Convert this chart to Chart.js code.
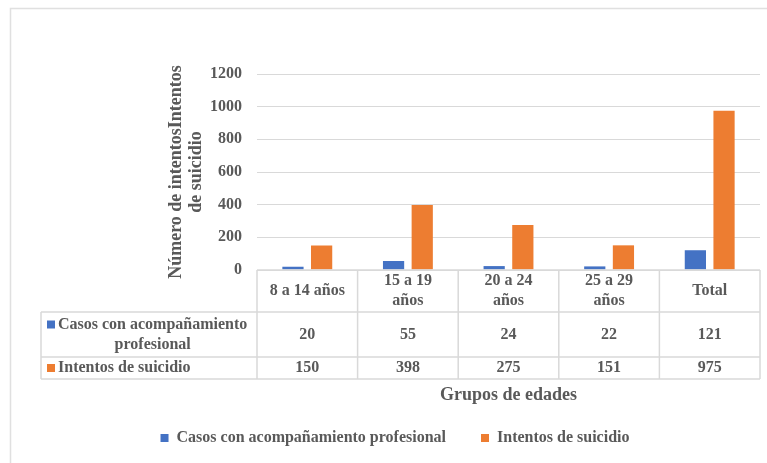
<!DOCTYPE html>
<html lang="es">
<head>
<meta charset="utf-8">
<title>Intentos de suicidio por grupos de edades</title>
<script src="https://cdn.jsdelivr.net/npm/chart.js@4.4.1/dist/chart.umd.min.js"></script>
<style>
  html, body { margin: 0; padding: 0; background: #fff; }
  #contenedor { position: relative; width: 767px; height: 463px; }
</style>
</head>
<body>
<div id="contenedor"><canvas id="grafico"></canvas></div>
<script>
// Grupos de edad (en varias líneas como en la tabla)
const grupos = [['8 a 14 años'], ['15 a 19', 'años'], ['20 a 24', 'años'], ['25 a 29', 'años'], ['Total']];
const casosAcompanamiento = [20, 55, 24, 22, 121];
const intentosSuicidio = [150, 398, 275, 151, 975];
const nombresSeries = ['Casos con acompañamiento profesional', 'Intentos de suicidio'];
const nombresTabla = [['Casos con acompañamiento', 'profesional'], ['Intentos de suicidio']];
const ejeY = { min: 0, max: 1200, paso: 200 };

const AZUL = '#4472C4';
const NARANJA = '#ED7D31';
const GRIS_TEXTO = '#595959';
const GRIS_LINEA = '#d9d9d9';
const FUENTE = '"Liberation Serif", "Times New Roman", serif';

Chart.defaults.font.family = FUENTE;
Chart.defaults.color = GRIS_TEXTO;

// marco exterior del gráfico
const marco = {
  id: 'marco',
  beforeDraw(chart) {
    const ctx = chart.ctx;
    ctx.save();
    ctx.strokeStyle = '#e0e0e0';
    ctx.lineWidth = 1.5;
    ctx.beginPath();
    ctx.moveTo(10.5, chart.height);
    ctx.lineTo(10.5, 8.5);
    ctx.lineTo(chart.width, 8.5);
    ctx.stroke();
    ctx.restore();
  }
};

// tabla de datos bajo el eje X
const tablaDatos = {
  id: 'tablaDatos',
  afterDraw(chart) {
    const { ctx, chartArea, scales: { x } } = chart;
    const n = chart.data.labels.length;
    const anchoCol = (x.right - x.left) / n;
    const altos = [42, 45, 22];
    const y0 = chartArea.bottom;
    const y1 = y0 + altos[0], y2 = y1 + altos[1], y3 = y2 + altos[2];
    const filas = [[y1, y2], [y2, y3]];
    const xIzq = 41;

    ctx.save();
    ctx.strokeStyle = GRIS_LINEA;
    ctx.lineWidth = 1.5;
    ctx.beginPath();
    ctx.moveTo(x.left, y0); ctx.lineTo(x.right, y0);
    [y1, y2, y3].forEach(y => { ctx.moveTo(xIzq, y); ctx.lineTo(x.right, y); });
    for (let i = 0; i <= n; i++) {
      const xx = x.left + i * anchoCol;
      ctx.moveTo(xx, y0); ctx.lineTo(xx, y3);
    }
    ctx.moveTo(xIzq, y1); ctx.lineTo(xIzq, y3);
    ctx.stroke();

    ctx.font = 'bold 16px ' + FUENTE;
    ctx.fillStyle = GRIS_TEXTO;
    ctx.textAlign = 'center';
    ctx.textBaseline = 'middle';

    // encabezados de columna
    chart.data.labels.forEach((lab, i) => {
      const cx = x.getPixelForValue(i);
      const medio = (y0 + y1) / 2;
      lab.forEach((t, j) => ctx.fillText(t, cx, medio + (j - (lab.length - 1) / 2) * 20));
    });

    // filas de valores con su clave de color
    chart.data.datasets.forEach((ds, k) => {
      const medio = (filas[k][0] + filas[k][1]) / 2;
      ds.data.forEach((v, i) => {
        ctx.fillStyle = GRIS_TEXTO;
        ctx.fillText(String(v), x.getPixelForValue(i), medio);
      });
      const lineas = nombresTabla[k];
      const yPrimera = medio - (lineas.length - 1) * 10;
      const xTexto = 58;
      const ancho = ctx.measureText(lineas[0]).width;
      ctx.fillStyle = ds.backgroundColor;
      ctx.fillRect(47, yPrimera - 4, 8, 8);
      ctx.fillStyle = GRIS_TEXTO;
      ctx.textAlign = 'left';
      ctx.fillText(lineas[0], xTexto, yPrimera);
      ctx.textAlign = 'center';
      for (let j = 1; j < lineas.length; j++) {
        ctx.fillText(lineas[j], xTexto + ancho / 2, yPrimera + j * 20);
      }
    });
    ctx.restore();
  }
};

new Chart(document.getElementById('grafico'), {
  type: 'bar',
  data: {
    labels: grupos,
    datasets: [
      { label: nombresSeries[0], data: casosAcompanamiento, backgroundColor: AZUL, borderWidth: 0 },
      { label: nombresSeries[1], data: intentosSuicidio, backgroundColor: NARANJA, borderWidth: 0 }
    ]
  },
  options: {
    responsive: true,
    maintainAspectRatio: false,
    animation: false,
    categoryPercentage: 0.57,
    barPercentage: 0.74,
    layout: { padding: { left: 30, right: 7, top: 74, bottom: 7 } },
    plugins: {
      tooltip: { enabled: false },
      legend: {
        position: 'bottom',
        labels: {
          boxWidth: 8,
          boxHeight: 8,
          padding: 35,
          color: GRIS_TEXTO,
          font: { size: 16, weight: 'bold' }
        }
      }
    },
    scales: {
      x: {
        offset: true,
        grid: { display: false },
        border: { display: false },
        ticks: { display: false },
        title: {
          display: true,
          text: 'Grupos de edades',
          color: GRIS_TEXTO,
          font: { size: 18, weight: 'bold', lineHeight: 1.2 },
          // el título queda dentro del hueco superior de la leyenda
          padding: { top: 0, bottom: -11 }
        },
        afterFit(scale) { scale.height = 125; }
      },
      y: {
        min: ejeY.min,
        max: ejeY.max,
        border: { display: false },
        grid: { color: GRIS_LINEA, lineWidth: 1, drawTicks: false },
        ticks: {
          stepSize: ejeY.paso,
          padding: 15,
          color: GRIS_TEXTO,
          font: { size: 16, weight: 'bold' },
          callback: v => String(v)
        },
        title: {
          display: true,
          text: ['Número de intentosIntentos', 'de suicidio'],
          color: GRIS_TEXTO,
          font: { size: 18, weight: 'bold', lineHeight: 1.12 },
          padding: { top: 136, bottom: 0 }
        },
        afterFit(scale) { scale.width = 227; }
      }
    }
  },
  plugins: [marco, tablaDatos]
});
</script>
</body>
</html>
